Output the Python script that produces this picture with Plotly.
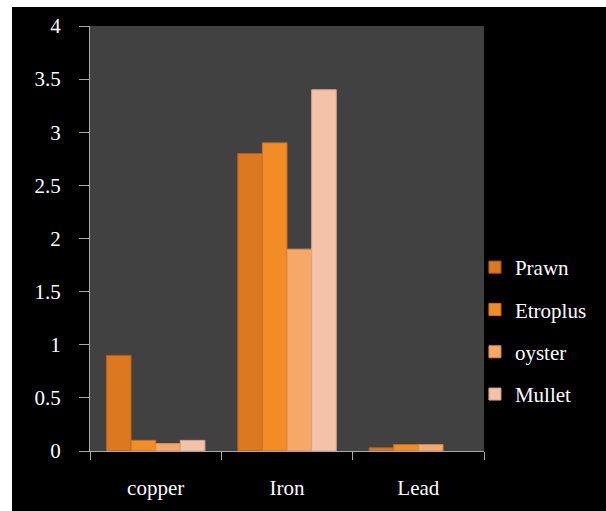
import plotly.graph_objects as go

categories = ["copper", "Iron", "Lead"]
series_names = ["Prawn", "Etroplus", "oyster", "Mullet"]
prawn = [0.9, 2.8, 0.03]
etroplus = [0.1, 2.9, 0.06]
oyster = [0.07, 1.9, 0.06]
mullet = [0.1, 3.4, 0.0]
y_ticks = [0, 0.5, 1, 1.5, 2, 2.5, 3, 3.5, 4]
y_tick_labels = ["0", "0.5", "1", "1.5", "2", "2.5", "3", "3.5", "4"]

colors = ["#DC7820", "#F28C26", "#F6A868", "#F4C2A8"]
edge_colors = ["#B85E12", "#D0701A", "#D88C50", "#D8A48C"]
values = [prawn, etroplus, oyster, mullet]

W, H = 606, 511
ml, mr, mt, mb = 90, 122, 26, 60
pw, ph = W - ml - mr, H - mt - mb

fig = go.Figure()
for name, vals, col, ec in zip(series_names, values, colors, edge_colors):
    fig.add_trace(go.Bar(
        x=categories, y=vals, name=name, legendgroup=name,
        marker=dict(color=col,
                    line=dict(width=[1 if v > 0 else 0 for v in vals], color=ec)),
    ))

font = dict(family="Liberation Serif", size=21, color="white")

# white margins of the photo: left strip and top strip
fig.add_shape(type="rect", xref="paper", yref="paper",
              x0=-ml / pw - 0.01, x1=(12 - ml) / pw,
              y0=-mb / ph - 0.01, y1=(ph + mt) / ph + 0.01,
              fillcolor="white", line=dict(width=0), layer="below")
fig.add_shape(type="rect", xref="paper", yref="paper",
              x0=-ml / pw - 0.01, x1=(W - ml) / pw + 0.01,
              y0=(ph + mt - 7) / ph, y1=(ph + mt) / ph + 0.01,
              fillcolor="white", line=dict(width=0), layer="below")

fig.update_layout(
    width=W, height=H,
    margin=dict(l=ml, r=mr, t=mt, b=mb, autoexpand=False),
    paper_bgcolor="black", plot_bgcolor="#414141",
    font=font,
    barmode="group", bargap=0.25, bargroupgap=0,
    showlegend=True,
    legend=dict(x=0.977, xanchor="left", y=0.48, yanchor="top",
                bgcolor="rgba(0,0,0,0)", font=font, tracegroupgap=12,
                itemclick=False),
    xaxis=dict(showline=True, linecolor="#a8a8a8", linewidth=1,
               ticks="outside", tickson="boundaries", ticklen=8,
               tickcolor="#a8a8a8", showgrid=False, zeroline=False,
               ticklabelstandoff=18, tickfont=font, automargin=False),
    yaxis=dict(range=[0, 4], tickvals=y_ticks, ticktext=y_tick_labels,
               showline=True, linecolor="#a8a8a8", linewidth=1,
               ticks="outside", ticklen=10, tickcolor="#a8a8a8",
               showgrid=False, zeroline=False, ticklabelstandoff=14,
               tickfont=font, automargin=False),
)

fig.write_html(
    "out.html",
    config={"displayModeBar": False},
    post_script="document.body.style.margin='0';"
                "document.body.style.background='black';"
                "document.documentElement.style.background='black';"
                "document.documentElement.style.overflow='hidden';",
)
